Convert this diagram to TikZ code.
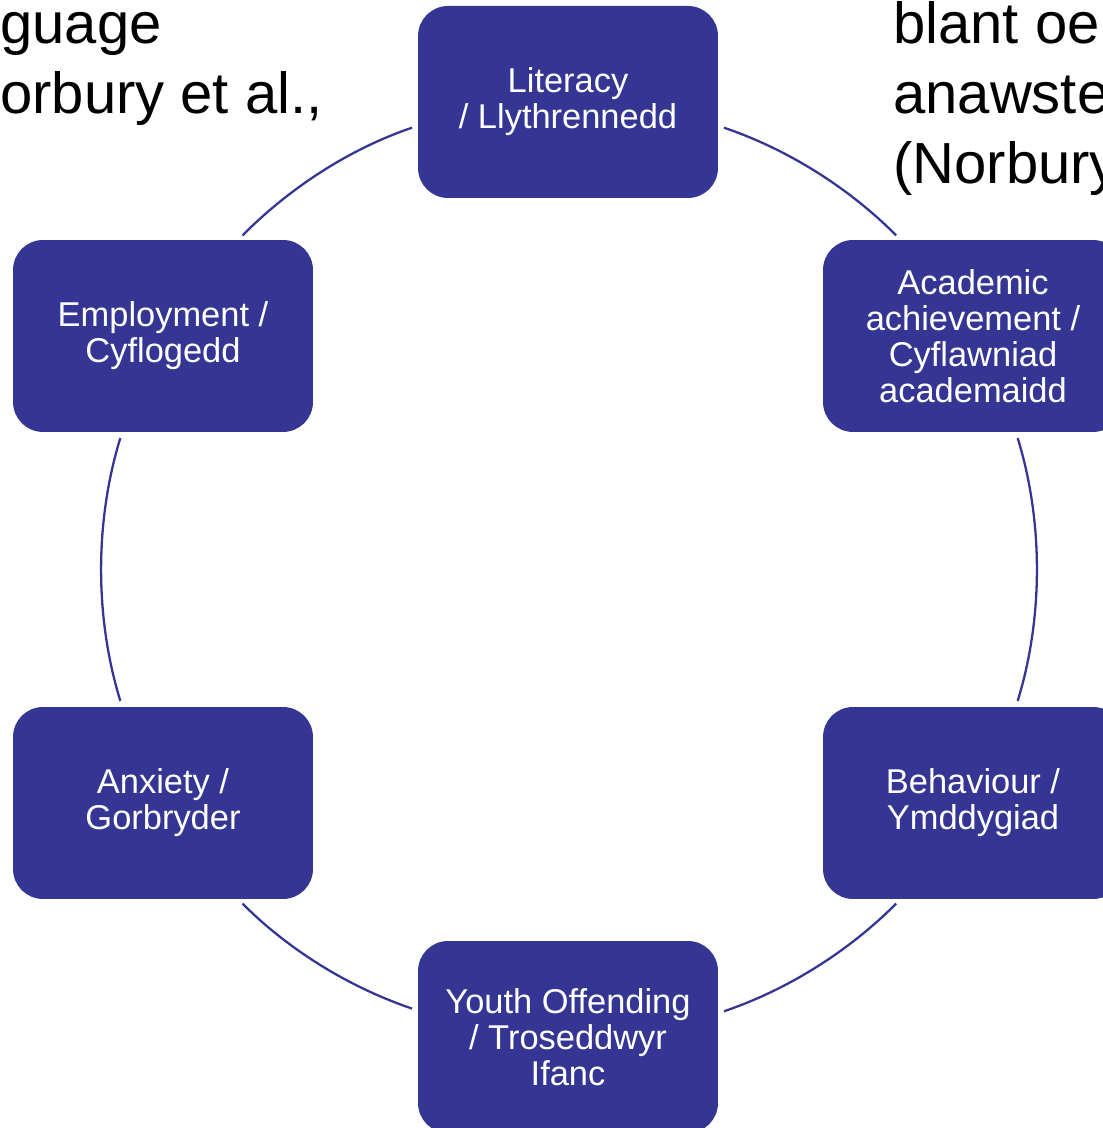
\documentclass[tikz,border=0pt]{standalone}
\usepackage{fontspec}
\setmainfont{Liberation Sans}
\definecolor{boxblue}{RGB}{53,53,148}
\tikzset{
	topic/.style={rectangle, rounded corners=0.6cm, fill=boxblue, text=white,
		minimum width=6cm, minimum height=3.84cm, inner sep=0pt, align=center,
		font=\fontsize{19.6pt}{20.5pt}\selectfont},
	ring/.style={draw=boxblue, line width=1.3pt, looseness=0.87,
		shorten <=0.12cm, shorten >=0.12cm},
	quote/.style={anchor=base west, inner sep=0pt, font=\fontsize{33pt}{40pt}\selectfont}
}
\begin{document}
\begin{tikzpicture}[x=0.02cm, y=0.02cm]
	\useasboundingbox (0,0) rectangle (1102,1128);
	
	% text behind the cycle
	\node[quote] (lang) at (0,1084) {guage};
	\node[quote] (cite) at (0,1014) {orbury et al.,};
	\node[quote] (blant) at (893,1084) {blant oe};
	\node[quote] (anaw) at (893,1014) {anawste};
	\node[quote] (norb) at (893,944) {(Norbury};
	
	\node[topic] (lit) at (568,1026) {Literacy\\/ Llythrennedd};
	\node[topic] (aca) at (973,792) {Academic\\achievement /\\Cyflawniad\\academaidd};
	\node[topic] (beh) at (973,325) {Behaviour /\\Ymddygiad};
	\node[topic] (youth) at (568,91) {Youth Offending\\/ Troseddwyr\\Ifanc};
	\node[topic] (anx) at (163,325) {Anxiety /\\Gorbryder};
	\node[topic] (emp) at (163,792) {Employment /\\Cyflogedd};
	
	\draw[ring] (lit.-9.35) edge[out=-18.7, in=134.84] (aca.127.33)
	(aca.-66.27) edge[out=-72.85, in=72.85] (beh.66.27)
	(beh.-127.33) edge[out=-134.84, in=18.7] (youth.9.35)
	(youth.170.65) edge[out=161.3, in=-45.16] (anx.-52.67)
	(anx.113.73) edge[out=107.15, in=-107.15] (emp.-113.73)
	(emp.52.67) edge[out=45.16, in=198.7] (lit.189.35);
\end{tikzpicture}
\end{document}
